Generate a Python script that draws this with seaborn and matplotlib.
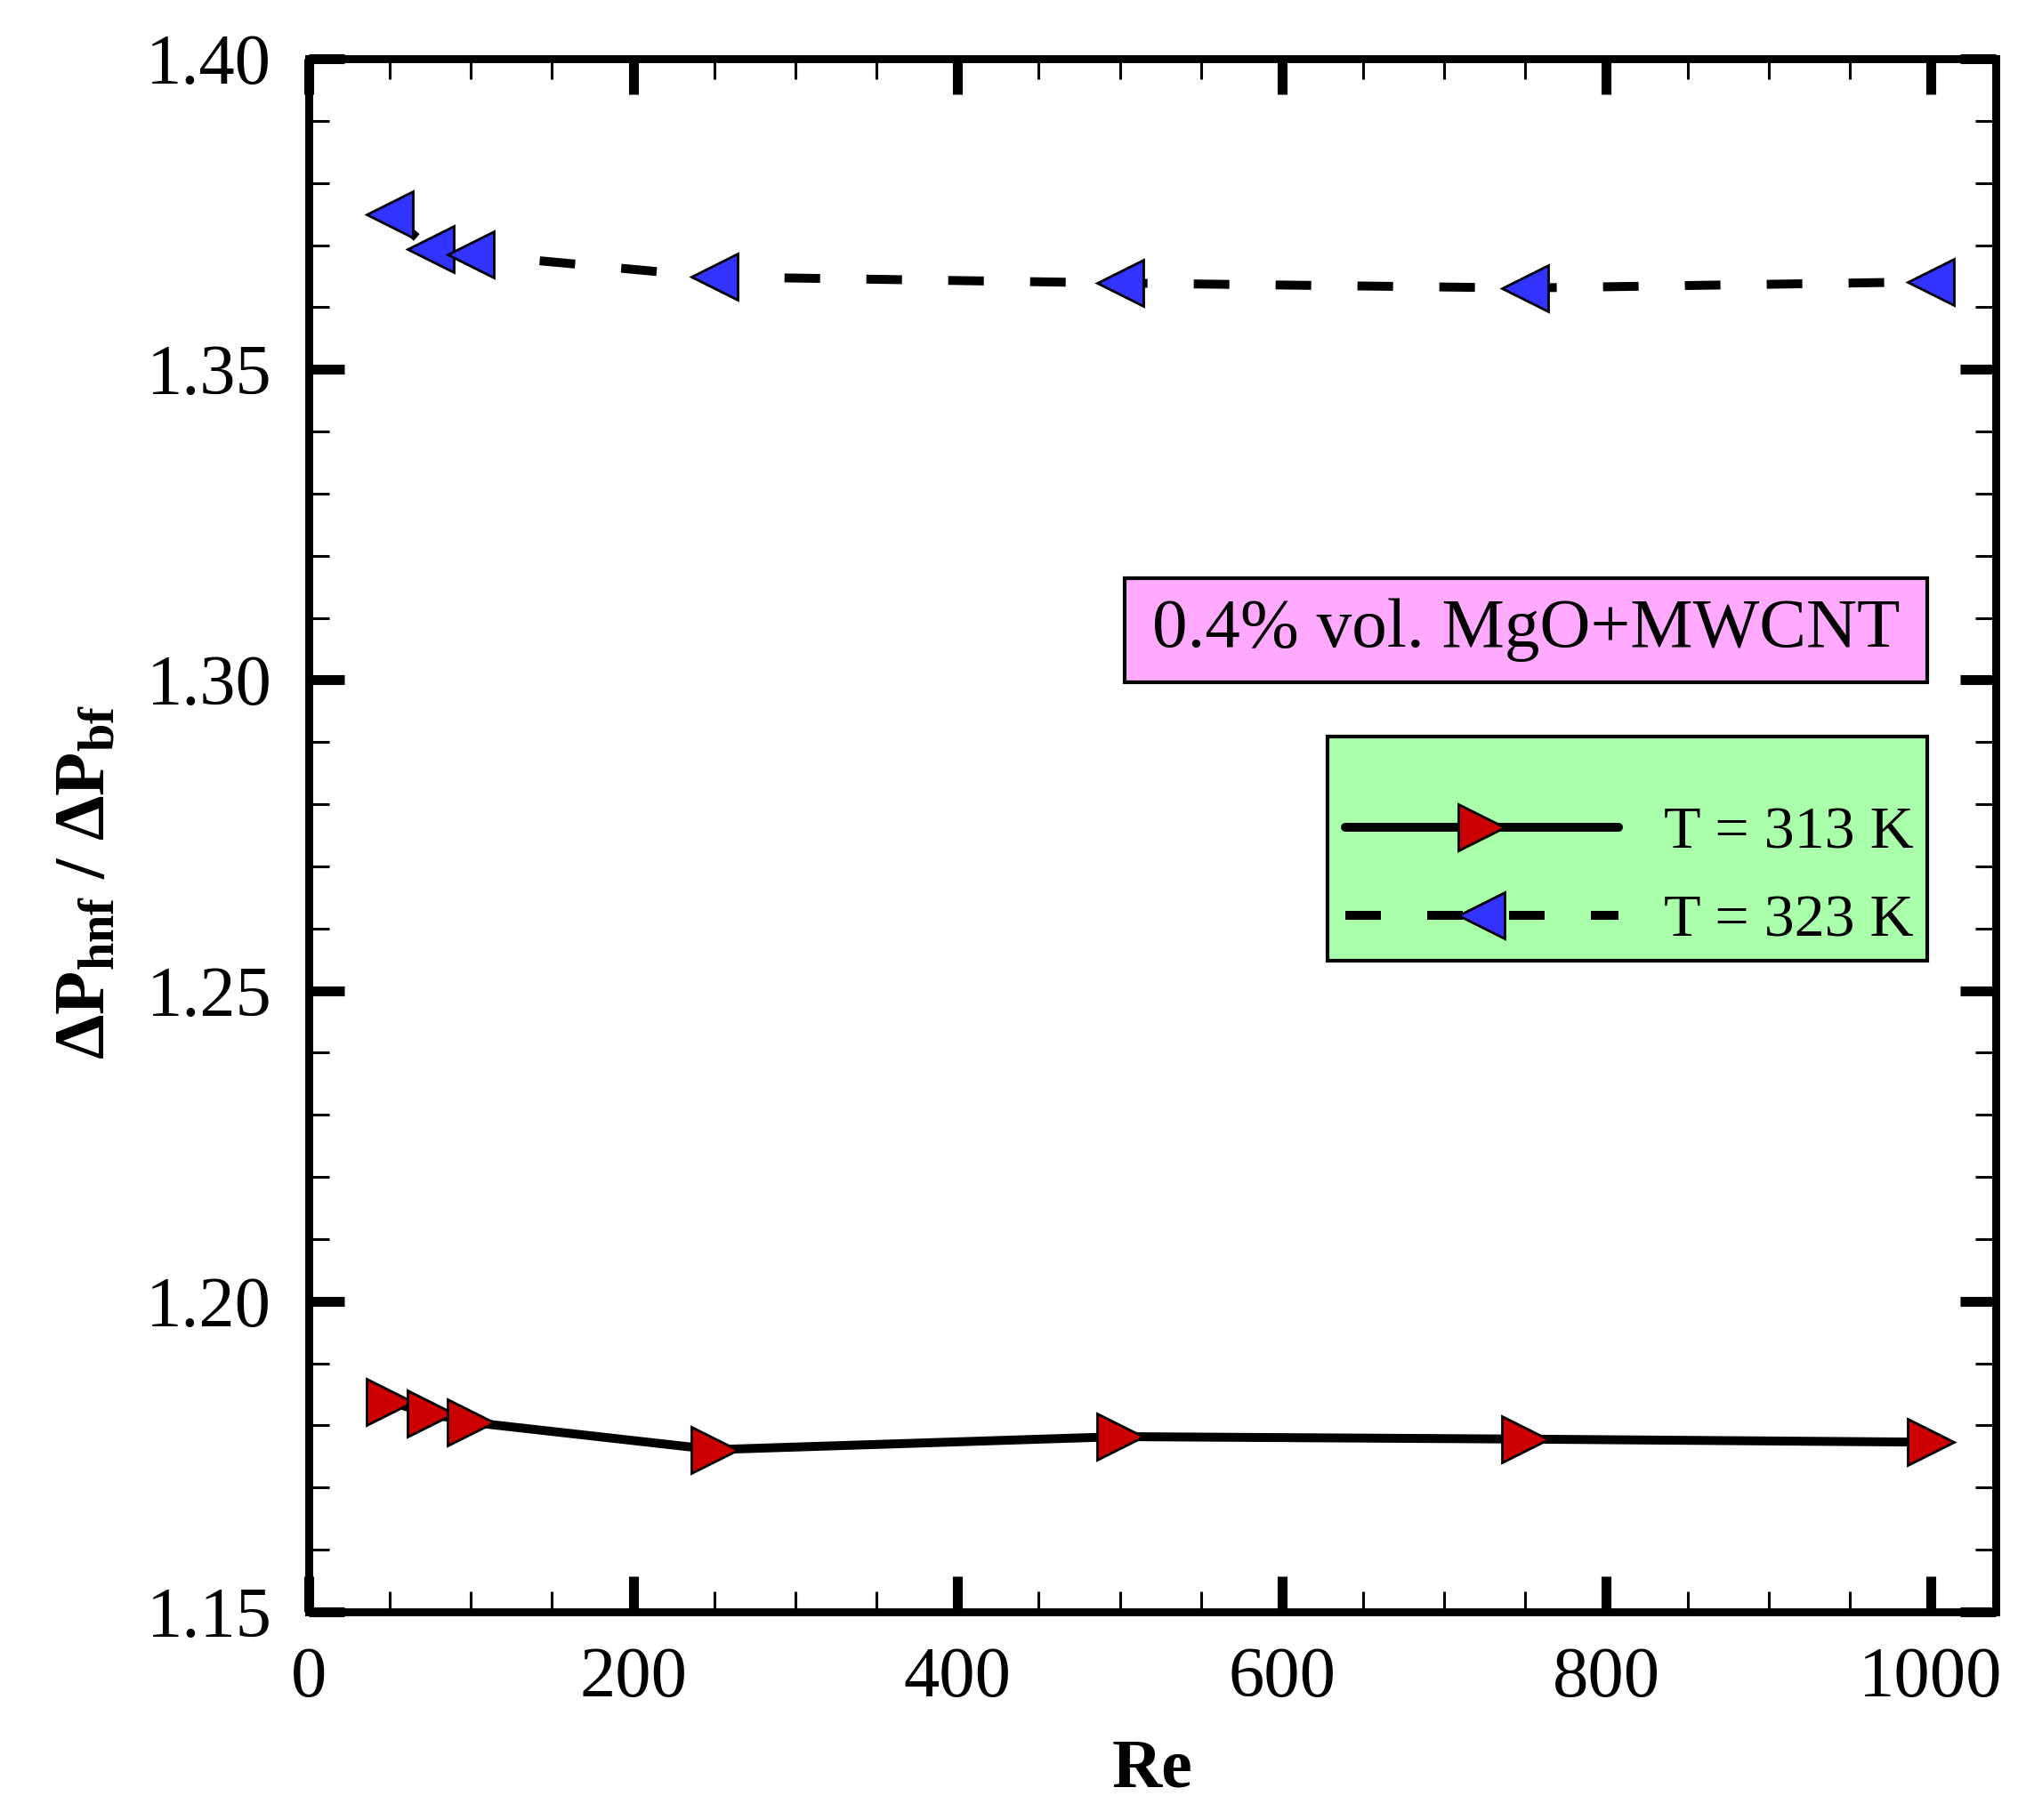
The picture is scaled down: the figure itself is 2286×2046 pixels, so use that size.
import matplotlib
matplotlib.use("Agg")
import matplotlib.pyplot as plt
from matplotlib.patches import Rectangle
from matplotlib.ticker import MultipleLocator, FormatStrFormatter
import seaborn as sns

# Data
re_vals = [50, 75, 100, 250, 500, 750, 1000]
dp_313 = [1.1838, 1.1819, 1.1805, 1.1761, 1.1782, 1.1778, 1.1773]
dp_323 = [1.3750, 1.3693, 1.3685, 1.3649, 1.3639, 1.3631, 1.3641]
series_labels = ["T = 313 K", "T = 323 K"]
box_text = "0.4% vol. MgO+MWCNT"

sns.set_style("ticks")
plt.rcParams.update({
    "font.family": ["Liberation Serif", "DejaVu Serif"],
    "mathtext.fontset": "custom",
    "mathtext.rm": "Liberation Serif",
    "mathtext.bf": "Liberation Serif:bold",
    "mathtext.it": "Liberation Serif:italic",
    "text.color": "black",
    "axes.labelcolor": "black",
    "xtick.color": "black",
    "ytick.color": "black",
})

fig = plt.figure(figsize=(11.43, 10.23), dpi=200)
ax = fig.add_axes([0.1518, 0.1144, 0.9812 - 0.1518, 0.9677 - 0.1144])

sns.lineplot(x=re_vals, y=dp_313, ax=ax, color="black", lw=3.6,
             linestyle="-", marker=">", markersize=19,
             markerfacecolor="#CC0000", markeredgecolor="black",
             markeredgewidth=1.0, label=series_labels[0])
sns.lineplot(x=re_vals, y=dp_323, ax=ax, color="black", lw=3.6,
             linestyle=(0, (4, 5.2)), marker="<", markersize=19,
             markerfacecolor="#3333FF", markeredgecolor="black",
             markeredgewidth=1.0, label=series_labels[1])

ax.set_xlim(0, 1040)
ax.set_ylim(1.15, 1.40)
ax.xaxis.set_major_locator(MultipleLocator(200))
ax.xaxis.set_minor_locator(MultipleLocator(50))
ax.yaxis.set_major_locator(MultipleLocator(0.05))
ax.yaxis.set_minor_locator(MultipleLocator(0.01))
ax.yaxis.set_major_formatter(FormatStrFormatter("%.2f"))

for sp in ax.spines.values():
    sp.set_visible(True)
    sp.set_linewidth(3.2)
    sp.set_color("black")

ax.tick_params(which="both", direction="in", top=True, right=True,
               colors="black", labelsize=29)
ax.tick_params(which="major", length=14.4, width=4, pad=14)
ax.tick_params(which="minor", length=8.3, width=1.1)
ax.tick_params(axis="y", which="major", pad=15)

ax.set_xlabel("Re", fontsize=28, fontweight="bold", labelpad=11)
ax.set_ylabel(r"ΔP$_{\mathbf{hnf}}$ / ΔP$_{\mathbf{bf}}$", fontsize=29,
              fontweight="bold")
ax.yaxis.set_label_coords(-0.112, 0.47)

# Annotation box (pink)
ax.add_patch(Rectangle((0.4838, 0.5985), 0.9592 - 0.4838, 0.6653 - 0.5985,
                       transform=ax.transAxes, fc="#FFAAFF", ec="black",
                       lw=1.5, zorder=4))
ax.text(0.7215, 0.6319, box_text, transform=ax.transAxes, fontsize=28.5,
        ha="center", va="center", zorder=5)

# Legend box (green) with frameless legend inside
ax.add_patch(Rectangle((0.6038, 0.419), 0.9592 - 0.6038, 0.5634 - 0.419,
                       transform=ax.transAxes, fc="#AAFFAA", ec="black",
                       lw=1.5, zorder=4))
leg = ax.legend(loc="center left", bbox_to_anchor=(0.6146, 0.4729),
                borderaxespad=0, borderpad=0, fontsize=24.5,
                handlelength=4.5, numpoints=1, frameon=False,
                labelspacing=0.55, handletextpad=0.75)
leg.set_zorder(6)

fig.savefig("out.png", dpi=200)
